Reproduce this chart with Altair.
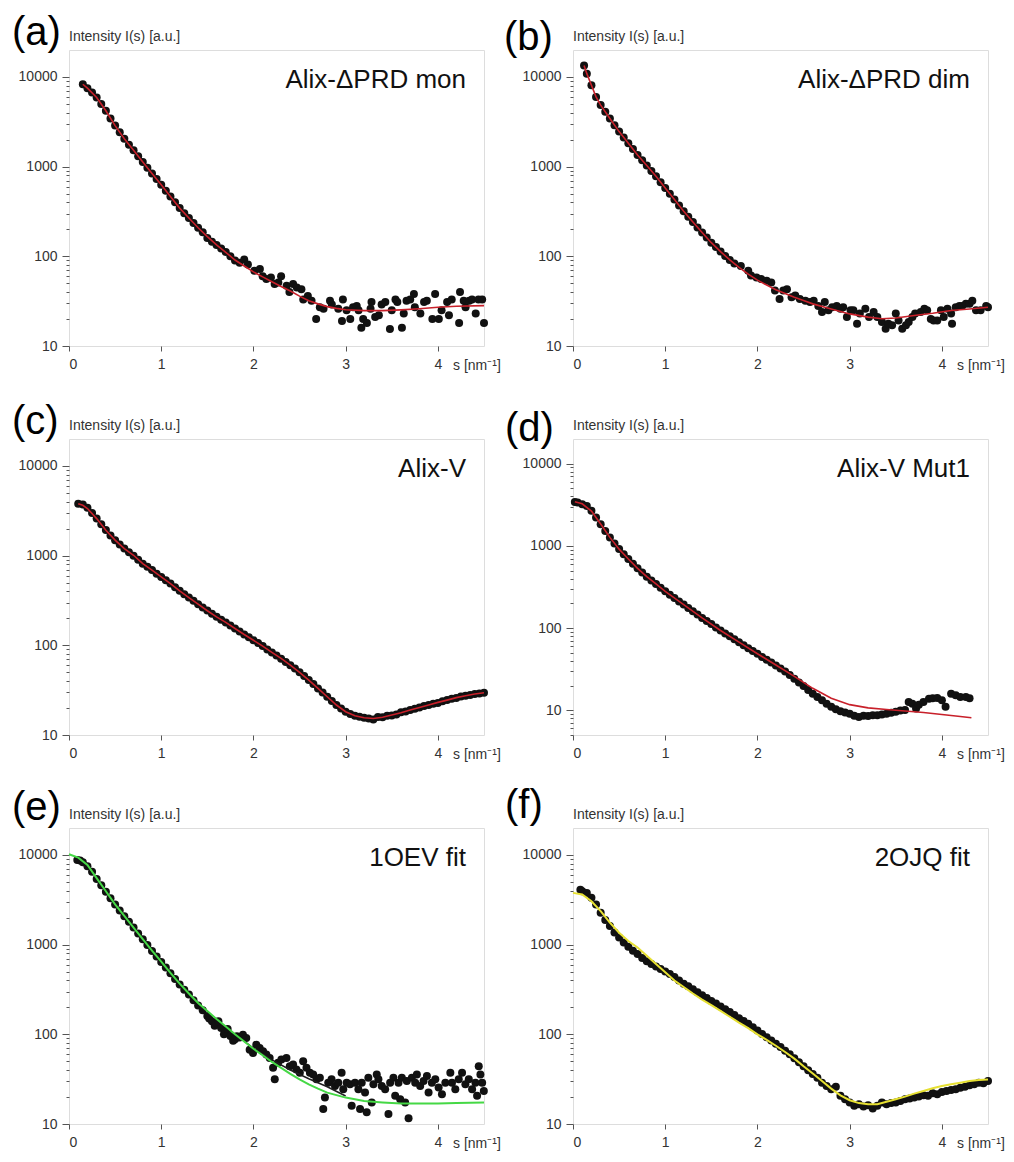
import altair as alt
import pandas as pd

FONT = "Liberation Sans"
W, H = 415, 296

LETTERS = ["(a)", "(b)", "(c)", "(d)", "(e)", "(f)"]
NAMES = ["Alix-\u0394PRD mon", "Alix-\u0394PRD dim", "Alix-V", "Alix-V Mut1", "1OEV fit", "2OJQ fit"]
Y_LABEL = "Intensity I(s) [a.u.]"
X_LABEL = "s [nm\u207b\u00b9]"
X_TICKS = [0, 1, 2, 3, 4]
Y_TICKS = [5, 6, 7, 8, 9, 10, 20, 30, 40, 50, 60, 70, 80, 90,
           100, 200, 300, 400, 500, 600, 700, 800, 900,
           1000, 2000, 3000, 4000, 5000, 6000, 7000, 8000, 9000, 10000]
MAJOR = [10, 100, 1000, 10000]

# ---------------- (a) Alix-dPRD mon ----------------
A_PTS = [(0.15, 8300), (0.20, 7500), (0.25, 6700), (0.30, 5900), (0.35, 5000), (0.40, 4200),
         (0.45, 3450), (0.50, 2870), (0.55, 2420), (0.60, 2050), (0.65, 1760), (0.70, 1520),
         (0.75, 1310), (0.80, 1130), (0.85, 975), (0.90, 840), (0.95, 730), (1.00, 630),
         (1.05, 540), (1.10, 465), (1.15, 400), (1.20, 345), (1.25, 303), (1.30, 268),
         (1.35, 236), (1.40, 208), (1.45, 185), (1.50, 160), (1.55, 145), (1.60, 134),
         (1.65, 122), (1.70, 112), (1.75, 100), (1.80, 90), (1.85, 85),
         (1.90, 92), (1.94, 81), (2.01, 69), (2.07, 72), (2.10, 60), (2.14, 56), (2.19, 58),
         (2.23, 49), (2.27, 51), (2.30, 60), (2.36, 47), (2.39, 40), (2.43, 49), (2.47, 45),
         (2.52, 43), (2.54, 33), (2.59, 36), (2.63, 32), (2.68, 20), (2.72, 27), (2.76, 26),
         (2.83, 32), (2.85, 29), (2.92, 26), (2.96, 19), (2.97, 33), (3.01, 25), (3.05, 20),
         (3.08, 27), (3.12, 28), (3.14, 25), (3.17, 16), (3.19, 20), (3.23, 18), (3.27, 26),
         (3.28, 31), (3.32, 21), (3.36, 22), (3.39, 29), (3.43, 31), (3.48, 15.5), (3.50, 25),
         (3.54, 33), (3.56, 31), (3.61, 16), (3.63, 23), (3.66, 32), (3.70, 33), (3.74, 38),
         (3.75, 27), (3.81, 23), (3.85, 31), (3.88, 32), (3.94, 20), (3.97, 38), (4.01, 20),
         (4.04, 25), (4.10, 31), (4.12, 22), (4.15, 33), (4.23, 18), (4.24, 40), (4.28, 32),
         (4.30, 27), (4.34, 32), (4.37, 33), (4.41, 23), (4.44, 33), (4.48, 33), (4.50, 18)]
A_FIT = [(0.15, 8300), (0.2, 7500), (0.3, 5900), (0.4, 4200), (0.5, 2870), (0.6, 2050),
         (0.7, 1520), (0.8, 1130), (0.9, 840), (1.0, 630), (1.1, 465), (1.2, 345), (1.3, 268),
         (1.4, 208), (1.5, 166), (1.6, 134), (1.7, 111), (1.8, 91), (1.9, 78), (2.0, 67),
         (2.1, 59), (2.2, 52), (2.3, 46), (2.4, 41), (2.5, 36), (2.6, 32), (2.7, 29.5),
         (2.8, 27.5), (2.9, 26.3), (3.0, 25.4), (3.2, 24.8), (3.4, 24.8), (3.6, 25.3),
         (3.8, 26), (4.0, 27), (4.2, 27.8), (4.5, 28.2)]

# ---------------- (b) Alix-dPRD dim ----------------
B_PTS = [(0.12, 13400), (0.15, 10900), (0.20, 8100), (0.25, 6000), (0.30, 4860), (0.35, 4100),
         (0.40, 3450), (0.45, 2900), (0.50, 2460), (0.55, 2110), (0.60, 1820), (0.65, 1570),
         (0.70, 1350), (0.75, 1180), (0.80, 1030), (0.85, 895), (0.90, 780), (0.95, 670),
         (1.00, 577), (1.05, 500), (1.10, 430), (1.15, 370), (1.20, 319), (1.25, 277),
         (1.30, 241), (1.35, 210), (1.40, 184), (1.45, 162), (1.50, 142), (1.55, 127),
         (1.60, 113), (1.65, 101), (1.70, 91), (1.75, 83),
         (1.82, 78), (1.90, 69), (1.93, 61), (1.99, 58), (2.04, 56), (2.10, 53.5), (2.15, 51),
         (2.19, 41.5), (2.24, 33.5), (2.28, 41.5), (2.32, 43), (2.37, 35), (2.41, 36.5),
         (2.46, 33.5), (2.52, 32), (2.57, 31), (2.61, 32), (2.66, 28), (2.70, 24), (2.73, 31),
         (2.77, 25), (2.81, 27), (2.86, 28), (2.90, 26), (2.93, 27), (2.97, 21), (3.01, 25),
         (3.04, 25), (3.08, 17.7), (3.11, 23), (3.17, 26), (3.21, 21), (3.26, 24), (3.30, 21),
         (3.35, 18.5), (3.39, 15.6), (3.42, 17.7), (3.46, 17), (3.50, 23), (3.53, 19.3),
         (3.57, 15.6), (3.61, 17), (3.64, 18.5), (3.68, 21), (3.71, 23), (3.77, 24), (3.81, 26),
         (3.84, 25), (3.88, 20), (3.91, 19.3), (3.95, 19.3), (3.99, 25), (4.02, 21), (4.06, 26),
         (4.10, 23), (4.11, 17.7), (4.15, 27), (4.19, 28), (4.22, 28), (4.26, 29.5),
         (4.30, 29.5), (4.33, 32), (4.37, 25), (4.42, 25), (4.48, 28), (4.50, 27)]
B_FIT = [(0.12, 13400), (0.15, 10900), (0.2, 8090), (0.25, 6000), (0.3, 4860), (0.4, 3450),
         (0.5, 2460), (0.6, 1820), (0.7, 1350), (0.8, 1030), (0.9, 780), (1.0, 577),
         (1.1, 430), (1.2, 319), (1.3, 241), (1.4, 184), (1.5, 142), (1.6, 113), (1.7, 91.3),
         (1.8, 75.1), (1.9, 63.4), (2.0, 54.3), (2.1, 47.8), (2.2, 42.5), (2.3, 38.4),
         (2.4, 34.9), (2.5, 32.1), (2.6, 29.5), (2.8, 25.9), (3.0, 22.8), (3.2, 21),
         (3.35, 20.1), (3.5, 20.5), (3.7, 21.9), (3.9, 23.2), (4.1, 24.9), (4.3, 25.9), (4.5, 27)]

# ---------------- (c) Alix-V ----------------
C_PTS = [(0.10, 3800), (0.15, 3720), (0.20, 3420), (0.25, 3000), (0.30, 2600), (0.35, 2240),
         (0.40, 1930), (0.45, 1680), (0.50, 1490), (0.55, 1330), (0.60, 1200), (0.65, 1090),
         (0.70, 1000), (0.75, 900), (0.80, 815), (0.85, 750), (0.90, 690), (0.95, 630),
         (1.00, 580), (1.05, 532), (1.10, 490), (1.15, 445), (1.20, 405), (1.25, 372),
         (1.30, 342), (1.35, 314), (1.40, 288), (1.45, 265), (1.50, 244), (1.55, 225),
         (1.60, 208), (1.65, 193), (1.70, 180), (1.75, 166), (1.80, 154), (1.85, 143),
         (1.90, 132), (1.95, 123), (2.00, 114), (2.05, 106), (2.10, 98), (2.15, 90), (2.20, 83),
         (2.25, 77), (2.30, 71), (2.35, 65), (2.40, 60), (2.45, 55), (2.50, 50), (2.55, 45.5),
         (2.60, 41), (2.65, 37), (2.70, 33), (2.75, 29.8), (2.80, 26.7), (2.85, 24),
         (2.90, 21.6), (2.95, 19.8), (3.00, 18.2), (3.05, 17.2), (3.10, 16.4), (3.15, 16),
         (3.20, 15.6), (3.25, 15.3), (3.30, 14.9), (3.35, 15.9), (3.40, 15.8), (3.45, 16.4),
         (3.50, 16.5), (3.55, 16.9), (3.60, 17.9), (3.65, 18.3), (3.70, 19), (3.75, 19.6),
         (3.80, 20.3), (3.85, 21), (3.90, 21.6), (3.95, 22.3), (4.00, 22.8), (4.05, 23.8),
         (4.10, 24.5), (4.15, 25.3), (4.20, 25.8), (4.25, 26.8), (4.30, 27.4), (4.35, 28),
         (4.40, 28.6), (4.45, 29.1), (4.50, 29.6)]
C_FIT = [(0.1, 3800), (0.15, 3650), (0.2, 3350), (0.3, 2590), (0.4, 1920), (0.5, 1490),
         (0.6, 1200), (0.7, 1010), (0.8, 816), (0.9, 688), (1.0, 580), (1.1, 489), (1.2, 405),
         (1.3, 341), (1.4, 288), (1.5, 243), (1.6, 208), (1.7, 180), (1.8, 154), (1.9, 132),
         (2.0, 114), (2.1, 98), (2.2, 83.3), (2.3, 71.4), (2.4, 60.2), (2.5, 49.9), (2.6, 41),
         (2.7, 33.1), (2.8, 26.7), (2.9, 21.6), (3.0, 18.2), (3.1, 16.4), (3.2, 15.6),
         (3.3, 15.3), (3.4, 15.8), (3.5, 16.7), (3.6, 17.7), (3.7, 19), (3.8, 20.3),
         (3.9, 21.6), (4.0, 23.1), (4.1, 24.5), (4.2, 26.1), (4.3, 27.4), (4.4, 28.6), (4.5, 29.6)]

# ---------------- (d) Alix-V Mut1 ----------------
D_PTS = [(0.02, 3430), (0.05, 3370), (0.10, 3210), (0.15, 3060), (0.20, 2670), (0.25, 2210),
         (0.30, 1840), (0.35, 1520), (0.40, 1270), (0.45, 1070), (0.50, 914), (0.55, 790),
         (0.60, 692), (0.65, 608), (0.70, 533), (0.75, 474), (0.80, 422), (0.85, 380),
         (0.90, 344), (0.95, 310), (1.00, 280), (1.05, 255), (1.10, 232), (1.15, 211),
         (1.20, 193), (1.25, 176), (1.30, 160), (1.35, 146), (1.40, 133), (1.45, 122),
         (1.50, 112), (1.55, 102), (1.60, 93.4), (1.65, 86), (1.70, 79.7), (1.75, 73),
         (1.80, 67.4), (1.85, 62), (1.90, 57), (1.95, 52.5), (2.00, 48.7), (2.05, 44.5),
         (2.10, 41.1), (2.15, 38), (2.20, 35.1), (2.25, 32.2), (2.30, 29.7), (2.35, 26.8),
         (2.40, 24.2), (2.45, 21.8), (2.50, 19.7), (2.55, 17.6), (2.60, 15.9), (2.65, 14.5),
         (2.70, 13.2), (2.75, 12), (2.80, 11), (2.85, 10.3), (2.90, 9.7), (2.95, 9.4),
         (3.00, 9.1), (3.05, 8.6), (3.10, 8.3), (3.15, 8.6), (3.20, 8.5), (3.25, 8.7),
         (3.30, 8.7), (3.35, 8.9), (3.40, 9.1), (3.45, 9.3), (3.50, 9.6), (3.55, 9.9),
         (3.60, 10.1), (3.64, 12.6), (3.68, 12), (3.72, 10.5), (3.75, 11.7), (3.80, 12.6),
         (3.86, 13.8), (3.90, 14), (3.95, 14.1), (4.00, 13.2), (4.04, 11), (4.10, 15.9),
         (4.15, 15.2), (4.20, 14.5), (4.26, 14.5), (4.30, 14)]
D_FIT = [(0.02, 3450), (0.1, 3250), (0.2, 2650), (0.3, 1850), (0.4, 1270), (0.5, 914),
         (0.6, 692), (0.7, 533), (0.8, 422), (0.9, 344), (1.0, 280), (1.2, 193), (1.4, 133),
         (1.6, 93.4), (1.8, 67.4), (2.0, 48.7), (2.2, 35.5), (2.4, 25.8), (2.6, 18.5),
         (2.8, 14), (3.0, 11.7), (3.2, 10.7), (3.4, 10.2), (3.6, 9.8), (3.8, 9.4), (4.0, 8.9),
         (4.2, 8.4), (4.32, 8.1)]

# ---------------- (e) 1OEV fit ----------------
E_PTS = [(0.09, 8800), (0.12, 8700), (0.15, 8300), (0.20, 7500), (0.25, 6500), (0.30, 5400),
         (0.35, 4600), (0.40, 3900), (0.45, 3300), (0.50, 2800), (0.55, 2400), (0.60, 2080),
         (0.65, 1800), (0.70, 1550), (0.75, 1330), (0.80, 1150), (0.85, 990), (0.90, 850),
         (0.95, 740), (1.00, 640), (1.05, 555), (1.10, 480), (1.15, 415), (1.20, 360),
         (1.25, 315), (1.30, 278), (1.35, 240), (1.40, 210), (1.45, 185), (1.50, 160),
         (1.52, 150), (1.55, 140), (1.58, 125), (1.60, 132), (1.62, 140), (1.65, 118),
         (1.68, 100), (1.70, 108), (1.72, 115), (1.75, 96), (1.78, 85), (1.80, 88), (1.82, 95),
         (1.85, 92),
         (1.886, 98.8), (1.922, 90.8), (1.959, 67.5), (1.995, 62), (2.031, 76.6), (2.067, 70.4),
         (2.104, 64.6), (2.14, 59.4), (2.176, 54.6), (2.213, 42.3), (2.231, 31.5), (2.267, 48.1),
         (2.303, 52.3), (2.358, 54.6), (2.394, 44.2), (2.43, 46), (2.466, 40.6), (2.503, 37.3),
         (2.539, 50.1), (2.575, 42.3), (2.612, 37.3), (2.648, 35.7), (2.684, 31.5), (2.72, 32.8),
         (2.757, 14.7), (2.775, 19.7), (2.811, 28.9), (2.847, 31.5), (2.884, 26.5), (2.92, 28.9),
         (2.956, 37.3), (2.974, 24.4), (3.011, 28.9), (3.047, 27.7), (3.065, 16), (3.101, 28.9),
         (3.138, 24.4), (3.156, 14.7), (3.174, 28.9), (3.21, 22.4), (3.228, 13.5), (3.246, 32.8),
         (3.283, 17.4), (3.301, 27.7), (3.337, 35.7), (3.355, 31.5), (3.391, 26.5), (3.428, 24.4),
         (3.464, 12.9), (3.482, 28.9), (3.518, 32.8), (3.537, 20.6), (3.573, 28.9), (3.591, 18.9),
         (3.609, 32.8), (3.645, 17.4), (3.663, 30.2), (3.682, 11.6), (3.718, 32.8), (3.754, 28.9),
         (3.772, 35.7), (3.808, 26.5), (3.845, 30.2), (3.881, 34.2), (3.899, 22.4), (3.935, 28.9),
         (3.972, 31.5), (4.008, 25.5), (4.044, 21.5), (4.081, 28.9), (4.135, 37.3), (4.153, 28.9),
         (4.189, 24.4), (4.226, 31.5), (4.262, 37.3), (4.298, 27.7), (4.335, 31.5), (4.371, 24.4),
         (4.407, 28.9), (4.425, 20.6), (4.443, 44.2), (4.461, 35.7), (4.48, 28.9), (4.498, 23.4)]
E_FIT = [(0.0, 10200), (0.1, 9340), (0.2, 7750), (0.3, 5520), (0.4, 3940), (0.5, 2810),
         (0.6, 2090), (0.7, 1550), (0.8, 1150), (0.9, 857), (1.0, 646), (1.1, 485), (1.2, 367),
         (1.3, 285), (1.4, 224), (1.5, 182), (1.6, 148), (1.7, 122), (1.8, 100), (1.9, 83),
         (2.0, 69), (2.1, 58.4), (2.2, 49.2), (2.3, 42.3), (2.4, 36.3), (2.5, 31.4), (2.6, 27.7),
         (2.7, 24.8), (2.8, 22.4), (3.0, 19.7), (3.2, 18.1), (3.4, 17.4), (3.6, 16.9),
         (3.8, 16.9), (4.0, 16.9), (4.2, 17.1), (4.5, 17.4)]
E_DARK = [(1.9, 84), (2.0, 70), (2.2, 52), (2.4, 40), (2.6, 32), (2.8, 26), (3.0, 20.5)]

# ---------------- (f) 2OJQ fit ----------------
F_PTS = [(0.08, 4100), (0.10, 3940), (0.15, 3780), (0.20, 3330), (0.25, 2810), (0.30, 2270),
         (0.35, 1880), (0.40, 1620), (0.45, 1370), (0.50, 1200), (0.55, 1060), (0.60, 949),
         (0.65, 857), (0.70, 787), (0.75, 711), (0.80, 653), (0.85, 610), (0.90, 570),
         (0.95, 535), (1.00, 503), (1.05, 470), (1.10, 435), (1.15, 399), (1.20, 367),
         (1.25, 343), (1.30, 318), (1.35, 294), (1.40, 273), (1.45, 255), (1.50, 236),
         (1.55, 221), (1.60, 205), (1.65, 191), (1.70, 177), (1.75, 164), (1.80, 151),
         (1.85, 141), (1.90, 131), (1.95, 120), (2.00, 110), (2.05, 101), (2.10, 93),
         (2.15, 85.5), (2.20, 78.5), (2.25, 72.1), (2.30, 65.7), (2.35, 59.8), (2.40, 54.1),
         (2.45, 48.9), (2.50, 44.1), (2.55, 39.8), (2.60, 36), (2.65, 32.8), (2.70, 28.9),
         (2.75, 26.5), (2.80, 24.4), (2.85, 26.1), (2.90, 20.6), (2.95, 18.9), (3.00, 17.4),
         (3.05, 16), (3.10, 16.6), (3.15, 15.7), (3.20, 16.2), (3.25, 14.9), (3.30, 16),
         (3.35, 17.4), (3.40, 16.6), (3.45, 17.1), (3.50, 17.4), (3.55, 18.1), (3.60, 18.9),
         (3.65, 19.2), (3.70, 19.7), (3.75, 20.2), (3.80, 20.9), (3.85, 20.6), (3.90, 22),
         (3.95, 21.5), (4.00, 22.8), (4.05, 23.3), (4.10, 23.9), (4.15, 24.4), (4.20, 25.4),
         (4.25, 26.1), (4.30, 27), (4.35, 27.7), (4.40, 28.9), (4.45, 28.5), (4.50, 30.1)]
F_FIT = [(0.0, 3780), (0.1, 3620), (0.2, 3050), (0.3, 2370), (0.4, 1760), (0.5, 1360),
         (0.6, 1100), (0.7, 931), (0.8, 754), (0.9, 610), (1.0, 493), (1.1, 399), (1.2, 337),
         (1.3, 285), (1.4, 244), (1.5, 212), (1.6, 183), (1.7, 157), (1.8, 135), (1.9, 117),
         (2.0, 100), (2.1, 86.9), (2.2, 74.6), (2.3, 63.5), (2.4, 53.6), (2.5, 44.1),
         (2.6, 36.6), (2.7, 30.1), (2.8, 24.8), (2.9, 20.9), (3.0, 18.4), (3.1, 17.1),
         (3.2, 16.6), (3.3, 16.6), (3.4, 17.7), (3.5, 18.9), (3.6, 20.2), (3.7, 21.8),
         (3.8, 23.3), (3.9, 25), (4.0, 26.5), (4.1, 27.7), (4.2, 28.9), (4.3, 30.1),
         (4.4, 30.9), (4.5, 31.4)]

RED = "#c8202a"
GREEN = "#45d845"
YELLOW = "#e6e032"
DARK = "#1e1e1e"

TEST = "indexof(%s, datum.value) >= 0" % MAJOR


def text_layer(t, x, y, size, align="left", baseline="alphabetic", color="#111111"):
    return alt.Chart(pd.DataFrame({"t": [t]})).mark_text(
        align=align, baseline=baseline, fontSize=size, font=FONT, color=color
    ).encode(text="t:N", x=alt.value(x), y=alt.value(y))


def panel(i, pts, fits, ydom, lab_dx, lab_dy):
    xs = alt.Scale(domain=[0, 4.5], nice=False, zero=False)
    ys = alt.Scale(type="log", domain=ydom, nice=False)
    xaxis = alt.Axis(values=X_TICKS, title=None, grid=False, domain=False, tickSize=5,
                     tickColor="#555555", labelPadding=6, labelFontSize=14,
                     labelColor="#333333", labelFont=FONT, format="d")
    yaxis = alt.Axis(values=[v for v in Y_TICKS if ydom[0] <= v <= ydom[1]], title=None,
                     grid=False, domain=False, tickColor="#555555",
                     tickSize={"condition": {"test": TEST, "value": 7}, "value": 3},
                     labelExpr=TEST + " ? format(datum.value, 'd') : ''",
                     labelOverlap=False, labelPadding=5, labelFontSize=14,
                     labelColor="#333333", labelFont=FONT)
    layers = [
        alt.Chart(pd.DataFrame(pts, columns=["s", "I"])).mark_circle(
            size=64, color="#111111", opacity=1
        ).encode(x=alt.X("s:Q", scale=xs, axis=xaxis), y=alt.Y("I:Q", scale=ys, axis=yaxis))
    ]
    for data, color, width in fits:
        layers.append(
            alt.Chart(pd.DataFrame(data, columns=["s", "I"])).mark_line(
                color=color, strokeWidth=width
            ).encode(x=alt.X("s:Q", scale=xs), y=alt.Y("I:Q", scale=ys))
        )
    layers.append(text_layer(LETTERS[i], lab_dx, lab_dy, 40, color="#000000"))
    layers.append(text_layer(Y_LABEL, 0, -13, 14, baseline="middle", color="#333333"))
    layers.append(text_layer(NAMES[i], W - 18, 38, 26, align="right", color="#111111"))
    layers.append(text_layer(X_LABEL, W - 31, H + 24, 14, color="#333333"))
    return alt.layer(*layers).properties(width=W, height=H)


pa = panel(0, A_PTS, [(A_FIT, RED, 1.6)], [10, 20000], -57, -5)
pb = panel(1, B_PTS, [(B_FIT, RED, 1.6)], [10, 20000], -69, 0)
pc = panel(2, C_PTS, [(C_FIT, RED, 1.6)], [10, 20000], -57, -5)
pd_ = panel(3, D_PTS, [(D_FIT, RED, 1.6)], [5, 20000], -68, 2)
pe = panel(4, E_PTS, [(E_DARK, DARK, 1.5), (E_FIT, GREEN, 2)], [10, 20000], -57, -8)
pf = panel(5, F_PTS, [(F_FIT, YELLOW, 2)], [10, 20000], -68, -10)

chart = alt.concat(
    pa, pb, pc, pd_, pe, pf, columns=2,
    spacing={"row": 93, "column": 89}, bounds="flush",
).properties(
    padding={"left": 3, "top": 4, "right": 0, "bottom": 0},
    background="white",
).configure_view(stroke="#555555", strokeWidth=1).configure(font=FONT)

chart.save("out.html", embed_options={"renderer": "svg", "actions": False})
